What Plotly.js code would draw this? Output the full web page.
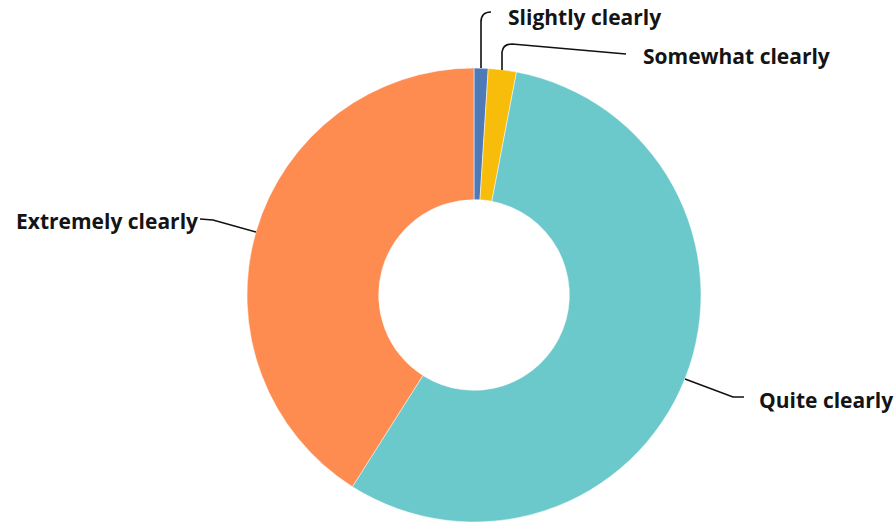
<!DOCTYPE html>
<html><head><meta charset="utf-8">
<script src="https://cdn.plot.ly/plotly-3.0.1.min.js"></script>
<style>html,body{margin:0;padding:0;background:#fff}</style>
</head><body>
<div id="chart" style="width:896px;height:523px"></div>
<script>
var categories = ["Slightly clearly", "Somewhat clearly", "Quite clearly", "Extremely clearly"];
var values = [1, 2, 56, 41];
var colors = ["#4e7ab8", "#f8bd0b", "#6bc8cb", "#fe8b4f"];

var W = 896, H = 523;
var CX = 474, CY = 295, R = 227;
// label layout (pixels): anchor point, side, and leader elbow shape
var labelLayout = [
  {tx: 506, ty: 17, side: "left", path: function(s){return "M"+s[0]+","+s[1]+" L"+s[0]+",22 Q"+s[0]+",12 "+(s[0]+10)+",12";}},
  {tx: 641, ty: 56, side: "left", path: function(s){return "M"+s[0]+","+s[1]+" L"+s[0]+",52 Q"+(s[0]+1)+",44 "+(s[0]+10)+",44 L626,54";}},
  {tx: 757, ty: 400, side: "left", path: function(s){return "M"+s[0]+","+s[1]+" L733,397 L744,397";}},
  {tx: 200, ty: 221, side: "right", path: function(s){return "M"+s[0]+","+s[1]+" L213,220 L200,219";}}
];

function px(x){return x/W;}
function py(y){return 1 - y/H;}
function toPaperPath(d){
  return d.replace(/(-?[\d.]+),(-?[\d.]+)/g, function(m,a,b){return px(+a).toFixed(5)+","+py(+b).toFixed(5);});
}

var total = values.reduce(function(a,b){return a+b;},0);
var cum = 0;
var shapes = [], annotations = [];
values.forEach(function(v,i){
  var mid = (cum + v/2)/total*2*Math.PI; cum += v;
  var s = [Math.round(CX + R*Math.sin(mid)), Math.round(CY - R*Math.cos(mid))];
  var L = labelLayout[i];
  shapes.push({type:"path", xref:"paper", yref:"paper", path: toPaperPath(L.path(s)),
    line:{color:"#111", width:1.6}});
  annotations.push({text: categories[i], x: px(L.tx), y: py(L.ty), xref:"paper", yref:"paper",
    xanchor: L.side, yanchor:"middle", showarrow:false,
    font:{family:"Open Sans", size:21, color:"#141414", weight:700}});
});

var trace = {
  type:"pie", labels: categories, values: values, sort:false, direction:"clockwise",
  rotation:0, hole:0.42, textinfo:"none", hoverinfo:"label+percent",
  marker:{colors: colors, line:{color:"#ffffff", width:0.5}},
  domain:{x:[(CX-R)/W, (CX+R)/W], y:[(H-CY-R)/H, (H-CY+R)/H]}
};

Plotly.newPlot("chart", [trace], {
  width:W, height:H, margin:{l:0,r:0,t:0,b:0}, showlegend:false,
  paper_bgcolor:"#fff", shapes: shapes, annotations: annotations
}, {displayModeBar:false, staticPlot:true});
</script>
</body></html>
